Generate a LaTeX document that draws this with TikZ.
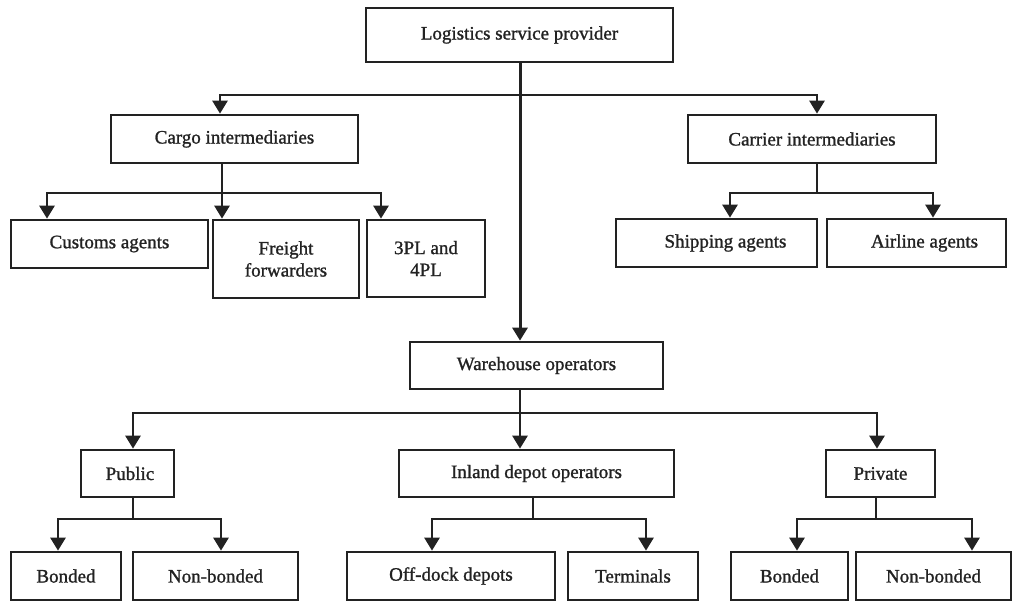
\documentclass[tikz,border=0pt]{standalone}
\usepackage{fontspec}
\setmainfont{Liberation Serif}
\newfontfamily\heavy{Liberation Serif}[FakeBold=1.2]
\usetikzlibrary{arrows.meta}
\definecolor{ink}{RGB}{34,34,34}
\begin{document}
\begin{tikzpicture}[x=1pt,y=-1pt,
  box/.style={draw=ink, line width=2.7pt, inner sep=0pt, align=center,
    text=ink, font=\heavy\fontsize{19}{22}\selectfont},
  link/.style={draw=ink, line width=2.7pt},
  arr/.style={draw=ink, line width=2.7pt, -{Triangle[width=15pt,length=13pt]}},
  main/.style={draw=ink, line width=3pt, -{Triangle[width=15pt,length=13pt]}}]
\useasboundingbox (0,0) rectangle (1013,601);
% nodes
\node[box, minimum width=307pt, minimum height=54pt] (lsp) at (519.5,35) {Logistics service provider};
\node[box, minimum width=247pt, minimum height=48pt] (cargo) at (234.5,139) {Cargo intermediaries};
\node[box, minimum width=248pt, minimum height=48pt] (carrier) at (812,139) {Carrier intermediaries};
\node[box, minimum width=197pt, minimum height=48pt] (customs) at (109.5,244) {Customs agents};
\node[box, minimum width=146pt, minimum height=78pt] (freight) at (286,259) {Freight\\forwarders};
\node[box, minimum width=118pt, minimum height=77pt] (tpl) at (426,258.5) {3PL and\\4PL};
\node[box, minimum width=201pt, minimum height=48pt] (shipping) at (716.5,243) {\hspace{18pt}Shipping agents};
\node[box, minimum width=179pt, minimum height=48pt] (airline) at (916.5,243) {\hspace{16pt}Airline agents};
\node[box, minimum width=253pt, minimum height=47pt] (warehouse) at (536.5,365.5) {Warehouse operators};
\node[box, minimum width=93pt, minimum height=47pt] (public) at (127.5,473.5) {\hspace{5pt}Public};
\node[box, minimum width=275pt, minimum height=47pt] (inland) at (536.5,473.5) {Inland depot operators};
\node[box, minimum width=109pt, minimum height=47pt] (private) at (880.5,473.5) {Private};
\node[box, minimum width=110pt, minimum height=48pt] (bondL) at (66,576) {Bonded};
\node[box, minimum width=165pt, minimum height=48pt] (nonbL) at (215.5,576) {Non-bonded};
\node[box, minimum width=208pt, minimum height=48pt] (offdock) at (451,576) {Off-dock depots};
\node[box, minimum width=130pt, minimum height=48pt] (terminals) at (633,576) {Terminals};
\node[box, minimum width=117pt, minimum height=48pt] (bondR) at (789.5,576) {Bonded};
\node[box, minimum width=155pt, minimum height=48pt] (nonbR) at (933.5,576) {Non-bonded};
% x positions of connectors
\coordinate (x47) at (47,0);   \coordinate (x220) at (220,0); \coordinate (x222) at (222,0);
\coordinate (x381) at (381,0); \coordinate (x730) at (730,0); \coordinate (x817) at (817,0);
\coordinate (x933) at (933,0); \coordinate (x133) at (133,0); \coordinate (x519) at (520,0);
\coordinate (x877) at (877,0); \coordinate (x58) at (58,0);   \coordinate (x221) at (221,0);
\coordinate (x533) at (533,0); \coordinate (x432) at (432,0); \coordinate (x646) at (646,0);
\coordinate (x876) at (876,0); \coordinate (x797) at (797,0); \coordinate (x972) at (972,0);
% junction levels
\coordinate (j0) at (520,95);
\coordinate (j1) at (222,193);
\coordinate (j2) at (817,193);
\coordinate (j3) at (520,413);
\coordinate (j4) at (133,519);
\coordinate (j5) at (533,519);
\coordinate (j6) at (876,519);
% main spine
\draw[main] (lsp.south -| x519) -- (warehouse.north -| x519);
% level 1
\draw[arr] (j0) -| (cargo.north -| x220);
\draw[arr] (j0) -| (carrier.north -| x817);
% cargo branch
\draw[link] (cargo.south -| x222) -- (j1);
\draw[arr] (j1) -| (customs.north -| x47);
\draw[arr] (j1) -- (freight.north -| x222);
\draw[arr] (j1) -| (tpl.north -| x381);
% carrier branch
\draw[link] (carrier.south -| x817) -- (j2);
\draw[arr] (j2) -| (shipping.north -| x730);
\draw[arr] (j2) -| (airline.north -| x933);
% warehouse branch
\draw[link] (warehouse.south -| x519) -- (j3);
\draw[arr] (j3) -| (public.north -| x133);
\draw[arr] (j3) -- (inland.north -| x519);
\draw[arr] (j3) -| (private.north -| x877);
% public branch
\draw[link] (public.south -| x133) -- (j4);
\draw[arr] (j4) -| (bondL.north -| x58);
\draw[arr] (j4) -| (nonbL.north -| x221);
% inland branch
\draw[link] (inland.south -| x533) -- (j5);
\draw[arr] (j5) -| (offdock.north -| x432);
\draw[arr] (j5) -| (terminals.north -| x646);
% private branch
\draw[link] (private.south -| x876) -- (j6);
\draw[arr] (j6) -| (bondR.north -| x797);
\draw[arr] (j6) -| (nonbR.north -| x972);
\end{tikzpicture}
\end{document}
